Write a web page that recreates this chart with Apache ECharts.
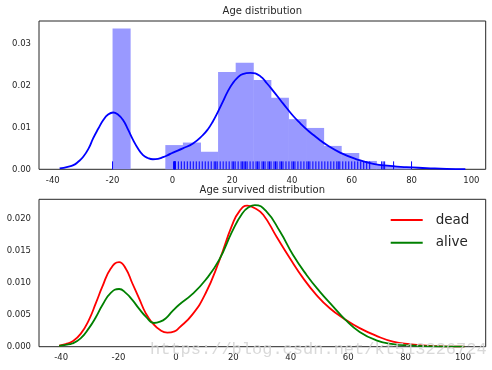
<!DOCTYPE html>
<html>
<head>
<meta charset="utf-8">
<script src="https://cdn.jsdelivr.net/npm/echarts@6/dist/echarts.min.js"></script>
<style>html,body{margin:0;padding:0;background:#fff}#c{width:492px;height:370px}</style>
</head>
<body>
<div id="c"></div>
<script>
// ---- data ----
const binEdges = [-20, -14.12, -8.24, -2.35, 3.53, 9.41, 15.29, 21.18, 27.06, 32.94, 38.82, 44.71, 50.59, 56.47, 62.35, 68.24, 74.12, 80];
const binDensity = [0.0337, 0, 0, 0.0058, 0.0064, 0.0042, 0.0233, 0.0255, 0.0214, 0.0171, 0.0120, 0.0099, 0.0056, 0.0039, 0.0020, 0.0010, 0.0005];

const rugAges = [-20, 0.42, 0.67, 0.75, 0.83, 0.92, 1, 2, 3, 4, 5, 6, 7, 8, 9, 10, 11, 12, 13, 14, 14.5, 15, 16, 17, 18, 19, 20, 20.5, 21, 22, 23, 23.5, 24, 24.5, 25, 26, 27, 28, 28.5, 29, 30, 30.5, 31, 32, 32.5, 33, 34, 34.5, 35, 36, 36.5, 37, 38, 39, 40, 40.5, 41, 42, 43, 44, 45, 45.5, 46, 47, 48, 49, 50, 51, 52, 53, 54, 55, 55.5, 56, 57, 58, 59, 60, 61, 62, 63, 64, 65, 66, 70, 70.5, 71, 74, 80];

const kdeAllX = [-37.7, -35, -33.1, -31.5, -29.8, -28, -26.5, -24.8, -23.1, -21.5, -19.8, -18.2, -16.5, -14.8, -13.1, -11.5, -9.8, -8.2, -6.5, -4.8, -3.1, -1.5, 0.2, 3.5, 6.9, 10.2, 11.9, 13.5, 15.2, 16.9, 18.5, 20.2, 21.9, 23.5, 26.1, 29.4, 31.6, 33.9, 36.1, 38.3, 40.5, 42.8, 45, 47.2, 49.5, 51.7, 56.1, 61.7, 67.2, 72.8, 78.3, 85, 91.7, 98];
const kdeAllY = [0.0002, 0.0006, 0.0010, 0.0018, 0.0030, 0.0050, 0.0074, 0.0097, 0.0118, 0.0131, 0.0136, 0.0131, 0.0118, 0.0095, 0.0070, 0.0050, 0.0034, 0.0027, 0.0024, 0.0025, 0.0029, 0.0034, 0.0040, 0.0050, 0.0062, 0.0082, 0.0096, 0.0114, 0.0137, 0.0162, 0.0186, 0.0206, 0.0220, 0.0228, 0.0231, 0.0223, 0.0206, 0.0186, 0.0166, 0.0146, 0.0127, 0.0110, 0.0095, 0.0082, 0.0069, 0.0058, 0.0040, 0.0024, 0.0013, 0.0008, 0.0005, 0.0003, 0.0001, 0.00003];

const deadX = [-40.7, -38.4, -36.1, -33.2, -30.3, -27.9, -25.6, -22.7, -19.8, -17.5, -15.2, -12.8, -10.5, -8.2, -5.5, -3.0, -0.5, 1.0, 5.7, 10.3, 15, 19.6, 22.2, 24.8, 27.5, 30.4, 35, 39.7, 44.3, 48.9, 53.6, 58.8, 64, 69.8, 75.6, 81.4, 89.5, 100.5];
const deadY = [0.00016, 0.0004, 0.0008, 0.0020, 0.0042, 0.0068, 0.0094, 0.0122, 0.0132, 0.0122, 0.0099, 0.0075, 0.0052, 0.0037, 0.0026, 0.0022, 0.0024, 0.0029, 0.0050, 0.0083, 0.0133, 0.0190, 0.0212, 0.0220, 0.0216, 0.0206, 0.0172, 0.0138, 0.0107, 0.0081, 0.0060, 0.0043, 0.0029, 0.0017, 0.0008, 0.0004, 0.0001, 0.0];

const aliveX = [-40.7, -38.4, -36.1, -33.2, -30.3, -27.9, -25.6, -22.7, -19.8, -17.5, -15.2, -12.8, -10.5, -7.7, -5.5, -3.6, -1.3, 1.0, 5.7, 10.3, 15, 19.6, 23.1, 25.5, 27.5, 31.5, 36.2, 40.8, 45.5, 50.1, 54.7, 58.8, 64, 69.8, 75.6, 81.4, 89.5, 100.5];
const aliveY = [0.00013, 0.0003, 0.0005, 0.0013, 0.0029, 0.0046, 0.0065, 0.0084, 0.0090, 0.0084, 0.0073, 0.0059, 0.0047, 0.0037, 0.0039, 0.0044, 0.0055, 0.0065, 0.0082, 0.0104, 0.0135, 0.0180, 0.0208, 0.0218, 0.0221, 0.0211, 0.0180, 0.0143, 0.0112, 0.0086, 0.0063, 0.0043, 0.0023, 0.0010, 0.0004, 0.0002, 0.00005, 0.0];

const xTicks = [-40, -20, 0, 20, 40, 60, 80, 100];
const yTicksTop = [0, 0.01, 0.02, 0.03];
const yTicksBottom = [0, 0.005, 0.010, 0.015, 0.020];
const titles = ['Age distribution', 'Age survived distribution'];
const legendNames = ['dead', 'alive'];
const watermark = 'https://blog.csdn.net/kt513226724';

// ---- chart ----
const zip = (a, b) => a.map((v, i) => [v, b[i]]);
const FONT = 'DejaVu Sans';
const TXT = '#262626';
const chart = echarts.init(document.getElementById('c'), null, {renderer: 'canvas'});

const histData = binDensity.map((d, i) => [binEdges[i], binEdges[i + 1], d]);
const rugData = rugAges.map(a => [a]);
const RUG_H = 0.0019;

function xAxisCfg(gi, min, max) {
  return {
    type: 'value', gridIndex: gi, min: min, max: max,
    splitLine: {show: false}, axisLine: {show: false}, axisTick: {show: false},
    axisLabel: {customValues: xTicks, fontFamily: FONT, fontSize: 8.5, color: TXT, margin: 7,
      formatter: v => String(v)}
  };
}
function yAxisCfg(gi, max, ticks, dec) {
  return {
    type: 'value', gridIndex: gi, min: 0, max: max,
    splitLine: {show: false}, axisLine: {show: false}, axisTick: {show: false},
    axisLabel: {customValues: ticks, fontFamily: FONT, fontSize: 8.5, color: TXT, margin: 8,
      formatter: v => v.toFixed(dec)}
  };
}

chart.setOption({
  animation: false,
  backgroundColor: '#ffffff',
  title: [
    {text: titles[0], left: 262.3, top: 6, textAlign: 'center', padding: 0,
      textStyle: {fontFamily: FONT, fontSize: 10, fontWeight: 'normal', color: TXT}},
    {text: titles[1], left: 262.3, top: 185, textAlign: 'center', padding: 0,
      textStyle: {fontFamily: FONT, fontSize: 10, fontWeight: 'normal', color: TXT}}
  ],
  legend: {
    data: legendNames.map(n => ({name: n, icon: 'rect'})),
    orient: 'vertical', left: 390.7, top: 213, padding: 0,
    itemWidth: 32, itemHeight: 2, itemGap: 8.7,
    itemStyle: {borderWidth: 0},
    textStyle: {fontFamily: FONT, fontSize: 13.5, lineHeight: 14, color: TXT, padding: [0, 0, 0, 8]}
  },
  grid: [
    {left: 39, top: 21, width: 446.7, height: 148.3, show: true, borderColor: '#262626', borderWidth: 1, backgroundColor: 'transparent'},
    {left: 39, top: 199.3, width: 446.7, height: 147.4, show: true, borderColor: '#262626', borderWidth: 1, backgroundColor: 'transparent'}
  ],
  xAxis: [xAxisCfg(0, -44.6, 104.8), xAxisCfg(1, -47.7, 107.9)],
  yAxis: [yAxisCfg(0, 0.0355, yTicksTop, 2), yAxisCfg(1, 0.0230, yTicksBottom, 3)],
  series: [
    {
      type: 'custom', xAxisIndex: 0, yAxisIndex: 0, data: histData, silent: true,
      encode: {x: [0, 1], y: 2},
      renderItem: function (params, api) {
        const p0 = api.coord([api.value(0), api.value(2)]);
        const p1 = api.coord([api.value(1), 0]);
        return {type: 'rect', shape: {x: p0[0], y: p0[1], width: p1[0] - p0[0] + 0.5, height: p1[1] - p0[1]},
          style: {fill: '#9999ff'}};
      }
    },
    {
      type: 'line', xAxisIndex: 0, yAxisIndex: 0, data: zip(kdeAllX, kdeAllY),
      symbol: 'none', smooth: 0.5, lineStyle: {color: '#0000ff', width: 1.8}, z: 3
    },
    {
      type: 'custom', xAxisIndex: 0, yAxisIndex: 0, data: rugData, silent: true, z: 4,
      encode: {x: 0},
      renderItem: function (params, api) {
        const p0 = api.coord([api.value(0), 0]);
        const p1 = api.coord([api.value(0), RUG_H]);
        return {type: 'line', shape: {x1: p0[0], y1: p0[1], x2: p1[0], y2: p1[1]},
          style: {stroke: '#0000ff', lineWidth: 1}};
      }
    },
    {
      name: legendNames[0], type: 'line', xAxisIndex: 1, yAxisIndex: 1, data: zip(deadX, deadY),
      symbol: 'none', smooth: 0.5, lineStyle: {color: '#ff0000', width: 1.8}, itemStyle: {color: '#ff0000'}
    },
    {
      name: legendNames[1], type: 'line', xAxisIndex: 1, yAxisIndex: 1, data: zip(aliveX, aliveY),
      symbol: 'none', smooth: 0.5, lineStyle: {color: '#008000', width: 1.8}, itemStyle: {color: '#008000'}
    }
  ],
  graphic: [
    {type: 'text', left: 150, top: 341, z: 100, silent: true,
      style: {text: watermark, font: '17px "Liberation Mono"', fill: 'rgba(210,210,210,0.85)'}}
  ]
});
</script>
</body>
</html>
